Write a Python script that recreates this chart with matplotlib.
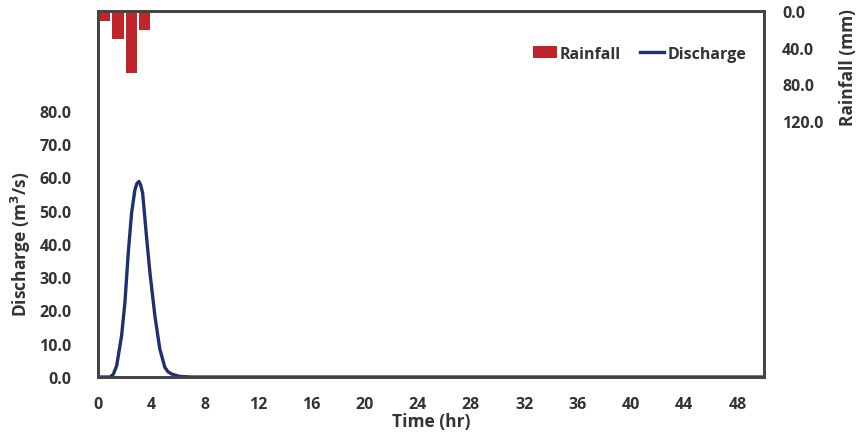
import matplotlib.pyplot as plt
from matplotlib.patches import Patch
from matplotlib.lines import Line2D

plt.rcParams['font.family'] = ['Open Sans', 'DejaVu Sans']
plt.rcParams['font.weight'] = 'bold'
plt.rcParams['axes.labelweight'] = 'bold'

# rainfall hyetograph (mm), hourly blocks
rain_t = [0.5, 1.5, 2.5, 3.5]
rain_mm = [11, 30, 68, 21]

# discharge hydrograph (m3/s)
time_hr = [0, 0.9, 1.15, 1.4, 1.77, 2.02, 2.27, 2.52, 2.77, 2.92, 3.07, 3.2,
           3.35, 3.64, 3.9, 4.27, 4.64, 5.02, 5.25, 5.52, 6.1, 7.0, 50]
discharge = [0, 0, 0.8, 3.4, 12.4, 22.4, 37.3, 49.3, 56.3, 58.2, 58.8, 57.8,
             55.3, 42.3, 31.3, 18.4, 8.4, 2.9, 1.6, 0.9, 0.2, 0, 0]

x_ticks = list(range(0, 49, 4))
q_ticks = [0, 10, 20, 30, 40, 50, 60, 70, 80]
r_ticks = [0, 40, 80, 120]

fig = plt.figure(figsize=(8.56, 4.35), dpi=100)
ax = fig.add_axes([0.1145, 0.131, 0.778, 0.841])
line_col = '#1f3070'
bar_col = '#c0252b'
txt_col = '#333333'

ax.plot(time_hr, discharge, color=line_col, lw=2.4, zorder=3)
ax.set_xlim(0, 50)
ax.set_ylim(0, 110)
ax.set_xticks(x_ticks)
ax.set_yticks(q_ticks)
ax.set_yticklabels([f'{v:.1f}' for v in q_ticks])
ax.tick_params(length=0, labelsize=11.5, colors=txt_col, pad=14)
ax.tick_params(axis='y', pad=19)
ax.set_xlabel('Time (hr)', fontsize=12.5, color=txt_col, labelpad=0)
ax.set_ylabel('Discharge (m$^3$/s)', fontsize=12.5, color=txt_col)
ax.yaxis.set_label_coords(-0.098, 0.365)

ax2 = ax.twinx()
ax2.bar(rain_t, rain_mm, width=0.85, color=bar_col, zorder=2)
ax2.set_ylim(400, 0)
ax2.set_yticks(r_ticks)
ax2.set_yticklabels([f'{v:.1f}' for v in r_ticks])
ax2.tick_params(length=0, labelsize=11.5, colors=txt_col, pad=13)
ax2.set_ylabel('Rainfall (mm)', fontsize=12.5, color=txt_col)
ax2.yaxis.set_label_coords(1.112, 0.85)

for a in (ax, ax2):
    for s in a.spines.values():
        s.set_color('#444444')
        s.set_linewidth(2)

handles = [Patch(facecolor=bar_col, label='Rainfall'),
           Line2D([0], [0], color=line_col, lw=2.4, label='Discharge')]
ax2.legend(handles=handles, loc='upper right', ncol=2, frameon=False,
           fontsize=11.5, bbox_to_anchor=(0.995, 0.945), handlelength=1.5,
           handletextpad=0.2, columnspacing=1.2,
           labelcolor=txt_col)

fig.savefig('out.png', dpi=100)
